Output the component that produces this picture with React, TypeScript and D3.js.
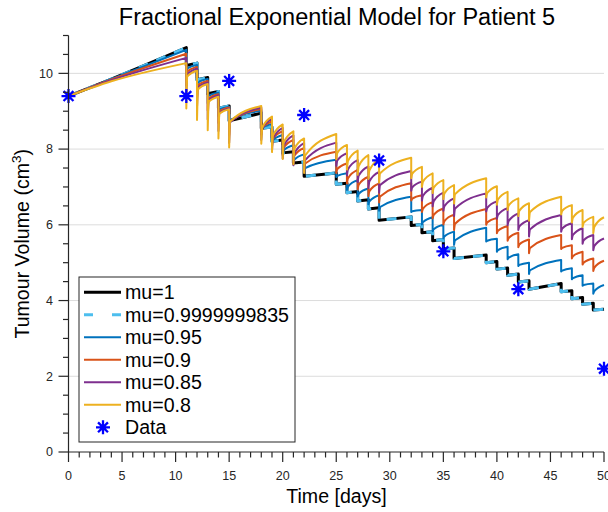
import React from 'react';
import * as d3 from 'd3';

const W = 608;
const H = 512;

// ---------- DATA ----------
const DOSE_DAYS = [11, 12, 13, 14, 15, 18, 19, 20, 21, 22, 25, 26, 27, 28, 29, 32, 33, 34, 35, 36, 39, 40, 41, 42, 43, 46, 47, 48, 49];
const END_DAY = 50;
const PRE_DAYS = [0, 4];
const EARLY_OFFSET = 0.1;

// mu = 1 (also mu = 0.9999999835, which coincides)
const MU1_PRE = [9.4, 9.85];
const MU1_TOPS = [10.68, 10.27, 9.89, 9.52, 9.14, 8.95, 8.58, 8.24, 7.93, 7.66, 7.37, 7.10, 6.88, 6.66, 6.45, 6.21, 6.01, 5.82, 5.61, 5.39, 5.20, 5.03, 4.86, 4.70, 4.52, 4.45, 4.26, 4.08, 3.93, 3.77];
const MU1_BOTTOMS = [10.21, 9.83, 9.46, 9.08, 8.75, 8.55, 8.21, 7.90, 7.63, 7.28, 7.07, 6.85, 6.63, 6.42, 6.12, 5.98, 5.79, 5.58, 5.36, 5.11, 5.00, 4.83, 4.67, 4.49, 4.30, 4.23, 4.05, 3.90, 3.75];

const MUN_PRE = MU1_PRE;
const MUN_TOPS = MU1_TOPS;
const MUN_BOTTOMS = MU1_BOTTOMS;

// mu = 0.95
const MU95_PRE = [9.4, 9.85];
const MU95_TOPS = [10.62, 10.22, 9.85, 9.49, 9.12, 9.01, 8.66, 8.37, 8.10, 7.86, 7.72, 7.36, 7.18, 6.96, 6.78, 6.74, 6.39, 6.20, 6.00, 5.82, 5.92, 5.63, 5.42, 5.22, 5.00, 5.07, 4.85, 4.67, 4.45, 4.41];
const MU95_BOTTOMS = [9.93, 9.56, 9.21, 8.87, 8.53, 8.47, 8.14, 7.87, 7.61, 7.39, 7.26, 6.92, 6.75, 6.54, 6.37, 6.34, 6.01, 5.83, 5.64, 5.47, 5.56, 5.29, 5.09, 4.91, 4.70, 4.77, 4.56, 4.39, 4.18];
const MU95_EARLY = [10.13, 9.76, 9.41, 9.05, 8.76, 8.56, 8.24, 7.97, 7.72, 7.50, 7.29, 7.01, 6.82, 6.62, 6.47, 6.36, 6.07, 5.88, 5.69, 5.59, 5.58, 5.33, 5.13, 4.94, 4.80, 4.79, 4.59, 4.41, 4.25];

// mu = 0.9
const MU90_PRE = [9.4, 9.84];
const MU90_TOPS = [10.52, 10.17, 9.80, 9.45, 9.10, 9.06, 8.73, 8.47, 8.24, 8.03, 7.93, 7.62, 7.45, 7.27, 7.09, 7.10, 6.78, 6.60, 6.43, 6.27, 6.42, 6.18, 5.97, 5.79, 5.61, 5.73, 5.46, 5.29, 5.11, 5.05];
const MU90_BOTTOMS = [9.68, 9.36, 9.02, 8.69, 8.37, 8.38, 8.08, 7.83, 7.62, 7.43, 7.37, 7.09, 6.93, 6.76, 6.59, 6.64, 6.34, 6.17, 6.01, 5.86, 6.00, 5.78, 5.58, 5.41, 5.25, 5.36, 5.11, 4.95, 4.78];
const MU90_EARLY = [10.05, 9.69, 9.34, 9.00, 8.73, 8.56, 8.28, 8.04, 7.83, 7.62, 7.47, 7.23, 7.06, 6.89, 6.75, 6.69, 6.43, 6.26, 6.10, 6.03, 6.06, 5.84, 5.65, 5.48, 5.39, 5.39, 5.17, 5.00, 4.87];

// mu = 0.85
const MU85_PRE = [9.4, 9.82];
const MU85_TOPS = [10.41, 10.12, 9.76, 9.42, 9.07, 9.10, 8.80, 8.56, 8.36, 8.16, 8.17, 7.89, 7.71, 7.54, 7.40, 7.42, 7.14, 6.98, 6.85, 6.70, 6.83, 6.62, 6.44, 6.30, 6.12, 6.26, 6.04, 5.91, 5.73, 5.64];
const MU85_BOTTOMS = [9.37, 9.11, 8.78, 8.48, 8.16, 8.24, 7.96, 7.75, 7.57, 7.38, 7.56, 7.30, 7.13, 6.97, 6.85, 6.90, 6.64, 6.49, 6.37, 6.23, 6.35, 6.16, 5.99, 5.86, 5.69, 5.82, 5.62, 5.50, 5.33];
const MU85_EARLY = [9.97, 9.63, 9.29, 8.95, 8.71, 8.55, 8.29, 8.09, 7.89, 7.71, 7.70, 7.47, 7.30, 7.15, 7.05, 6.99, 6.77, 6.62, 6.49, 6.43, 6.45, 6.26, 6.10, 5.96, 5.88, 5.90, 5.73, 5.59, 5.44];

// mu = 0.8
const MU80_PRE = [9.4, 9.79];
const MU80_TOPS = [10.27, 10.07, 9.72, 9.38, 9.05, 9.14, 8.86, 8.65, 8.47, 8.28, 8.40, 8.11, 7.96, 7.84, 7.73, 7.77, 7.53, 7.36, 7.18, 7.05, 7.23, 7.02, 6.87, 6.70, 6.57, 6.74, 6.52, 6.39, 6.21, 6.20];
const MU80_BOTTOMS = [9.07, 8.77, 8.50, 8.28, 8.04, 8.14, 7.92, 7.74, 7.60, 7.37, 7.73, 7.46, 7.32, 7.21, 7.11, 7.23, 7.00, 6.84, 6.68, 6.56, 6.72, 6.53, 6.39, 6.23, 6.11, 6.27, 6.06, 5.94, 5.78];
const MU80_EARLY = [9.92, 9.58, 9.25, 8.93, 8.73, 8.57, 8.36, 8.18, 8.01, 7.83, 7.90, 7.69, 7.55, 7.44, 7.36, 7.35, 7.14, 6.98, 6.83, 6.81, 6.84, 6.67, 6.51, 6.37, 6.34, 6.37, 6.19, 6.05, 5.95];

// Measured data
const DATA_DAYS = [0, 11, 15, 22, 29, 35, 42, 50];
const DATA_VALUES = [9.4, 9.4, 9.8, 8.9, 7.7, 5.3, 4.3, 2.2];

const SERIES_LABELS = ['mu=1', 'mu=0.9999999835', 'mu=0.95', 'mu=0.9', 'mu=0.85', 'mu=0.8'];
const DATA_LABEL = 'Data';

const TITLE = 'Fractional Exponential Model for Patient 5';
const X_LABEL = 'Time [days]';

const X_MAJOR = [0, 5, 10, 15, 20, 25, 30, 35, 40, 45, 50];
const Y_MAJOR = [0, 2, 4, 6, 8, 10];

// ---------- LAYOUT ----------
const FONT = '"Liberation Sans", Arial, Helvetica, sans-serif';
const AX = '#262626';
const x = d3.scaleLinear().domain([0, 50]).range([68.5, 604]);
const y = d3.scaleLinear().domain([0, 11]).range([452, 35.5]);

const lineGen = d3
  .line<[number, number]>()
  .x((d) => x(d[0]))
  .y((d) => y(d[1]))
  .curve(d3.curveMonotoneX);

function seriesPath(pre: number[], tops: number[], bottoms: number[], early?: number[]): string {
  let p = lineGen([
    [PRE_DAYS[0], pre[0]],
    [PRE_DAYS[1], pre[1]],
    [DOSE_DAYS[0], tops[0]],
  ]) as string;
  DOSE_DAYS.forEach((d, i) => {
    const next = i + 1 < DOSE_DAYS.length ? DOSE_DAYS[i + 1] : END_DAY;
    const pts: [number, number][] = early
      ? [
          [d, bottoms[i]],
          [d + EARLY_OFFSET, early[i]],
          [next, tops[i + 1]],
        ]
      : [
          [d, bottoms[i]],
          [next, tops[i + 1]],
        ];
    const seg = lineGen(pts) as string;
    p += 'L' + seg.slice(1);
  });
  return p;
}

type S = { label: string; color: string; width: number; dash?: string; legDash?: string; d: string };

const SERIES: S[] = [
  { label: SERIES_LABELS[0], color: '#000000', width: 3, d: seriesPath(MU1_PRE, MU1_TOPS, MU1_BOTTOMS) },
  { label: SERIES_LABELS[1], color: '#4DBEEE', width: 3, dash: '10,9', legDash: '9,19', d: seriesPath(MUN_PRE, MUN_TOPS, MUN_BOTTOMS) },
  { label: SERIES_LABELS[2], color: '#0072BD', width: 2, d: seriesPath(MU95_PRE, MU95_TOPS, MU95_BOTTOMS, MU95_EARLY) },
  { label: SERIES_LABELS[3], color: '#D95319', width: 2, d: seriesPath(MU90_PRE, MU90_TOPS, MU90_BOTTOMS, MU90_EARLY) },
  { label: SERIES_LABELS[4], color: '#7E2F8E', width: 2, d: seriesPath(MU85_PRE, MU85_TOPS, MU85_BOTTOMS, MU85_EARLY) },
  { label: SERIES_LABELS[5], color: '#EDB120', width: 2, d: seriesPath(MU80_PRE, MU80_TOPS, MU80_BOTTOMS, MU80_EARLY) },
];

function Star({ cx, cy, r = 7 }: { cx: number; cy: number; r?: number }) {
  const k = r * Math.SQRT1_2;
  const d = `M${cx - r},${cy}H${cx + r}M${cx},${cy - r}V${cy + r}M${cx - k},${cy - k}L${cx + k},${cy + k}M${cx - k},${cy + k}L${cx + k},${cy - k}`;
  return <path d={d} stroke="#0000FF" strokeWidth={2.3} fill="none" />;
}

export default function App() {
  const xMinor = d3.range(0, 51, 1);
  const yMinor = d3.range(0, 11.001, 0.5);
  const x0 = x(0);
  const yb = y(0);

  const legX = 79;
  const legY = 277;
  const legW = 216;
  const legH = 165;
  const rowH = 22.5;
  const row0 = 292.3;

  return (
    <svg
      width={W}
      height={H}
      viewBox={`0 0 ${W} ${H}`}
      style={{ position: 'absolute', left: 0, top: 0, display: 'block', background: '#fff' }}
      fontFamily={FONT}
    >
      <rect x={0} y={0} width={W} height={H} fill="#fff" />
      {/* grid */}
      {Y_MAJOR.filter((v) => v > 0).map((v) => (
        <line key={'g' + v} x1={x0} x2={x(50)} y1={y(v)} y2={y(v)} stroke="#DCDCDC" strokeWidth={1} />
      ))}

      {/* series */}
      {SERIES.map((s) => (
        <path
          key={s.label}
          d={s.d}
          fill="none"
          stroke={s.color}
          strokeWidth={s.width}
          strokeDasharray={s.dash}
          strokeLinejoin="round"
        />
      ))}

      {/* data */}
      {DATA_DAYS.map((t, i) => (
        <Star key={'s' + i} cx={x(t)} cy={y(DATA_VALUES[i])} />
      ))}

      {/* axes */}
      <line x1={x0} x2={x0} y1={y(11)} y2={yb} stroke={AX} strokeWidth={1.2} />
      <line x1={x0} x2={x(50)} y1={yb} y2={yb} stroke={AX} strokeWidth={1.2} />
      {xMinor.map((t) => {
        const major = X_MAJOR.includes(t);
        return (
          <line key={'xt' + t} x1={x(t)} x2={x(t)} y1={yb} y2={yb + (major ? 10 : 5.5)} stroke={AX} strokeWidth={1.2} />
        );
      })}
      {yMinor.map((v) => {
        const major = Y_MAJOR.includes(v);
        return (
          <line key={'yt' + v} x1={x0 - (major ? 10 : 5.5)} x2={x0} y1={y(v)} y2={y(v)} stroke={AX} strokeWidth={1.2} />
        );
      })}
      {X_MAJOR.map((t) => (
        <text key={'xl' + t} x={x(t)} y={480} fontSize={12.5} textAnchor="middle" fill={AX}>
          {t}
        </text>
      ))}
      {Y_MAJOR.map((v) => (
        <text key={'yl' + v} x={53} y={y(v)} dy="0.35em" fontSize={12.5} textAnchor="end" fill={AX}>
          {v}
        </text>
      ))}

      {/* labels */}
      <text x={337} y={25} fontSize={23.5} textAnchor="middle" fill="#000">
        {TITLE}
      </text>
      <text x={336.5} y={503} fontSize={19.6} textAnchor="middle" fill="#000">
        {X_LABEL}
      </text>
      <text transform={`translate(29,${(y(11) + yb) / 2}) rotate(-90)`} fontSize={19.6} textAnchor="middle" fill="#000">
        Tumour Volume (cm
        <tspan dy={-8} fontSize={13.5}>
          3
        </tspan>
        <tspan dy={8}>)</tspan>
      </text>

      {/* legend */}
      <rect x={legX} y={legY} width={legW} height={legH} fill="#fff" stroke={AX} strokeWidth={1} />
      {SERIES.map((s, i) => (
        <g key={'leg' + i}>
          <line
            x1={84}
            x2={121}
            y1={row0 + i * rowH}
            y2={row0 + i * rowH}
            stroke={s.color}
            strokeWidth={s.width}
            strokeDasharray={s.legDash}
          />
          <text x={125} y={row0 + i * rowH} dy="0.35em" fontSize={19.6} fill="#000">
            {s.label}
          </text>
        </g>
      ))}
      <Star cx={103} cy={row0 + 6 * rowH} />
      <text x={125} y={row0 + 6 * rowH} dy="0.35em" fontSize={19.6} fill="#000">
        {DATA_LABEL}
      </text>
    </svg>
  );
}
